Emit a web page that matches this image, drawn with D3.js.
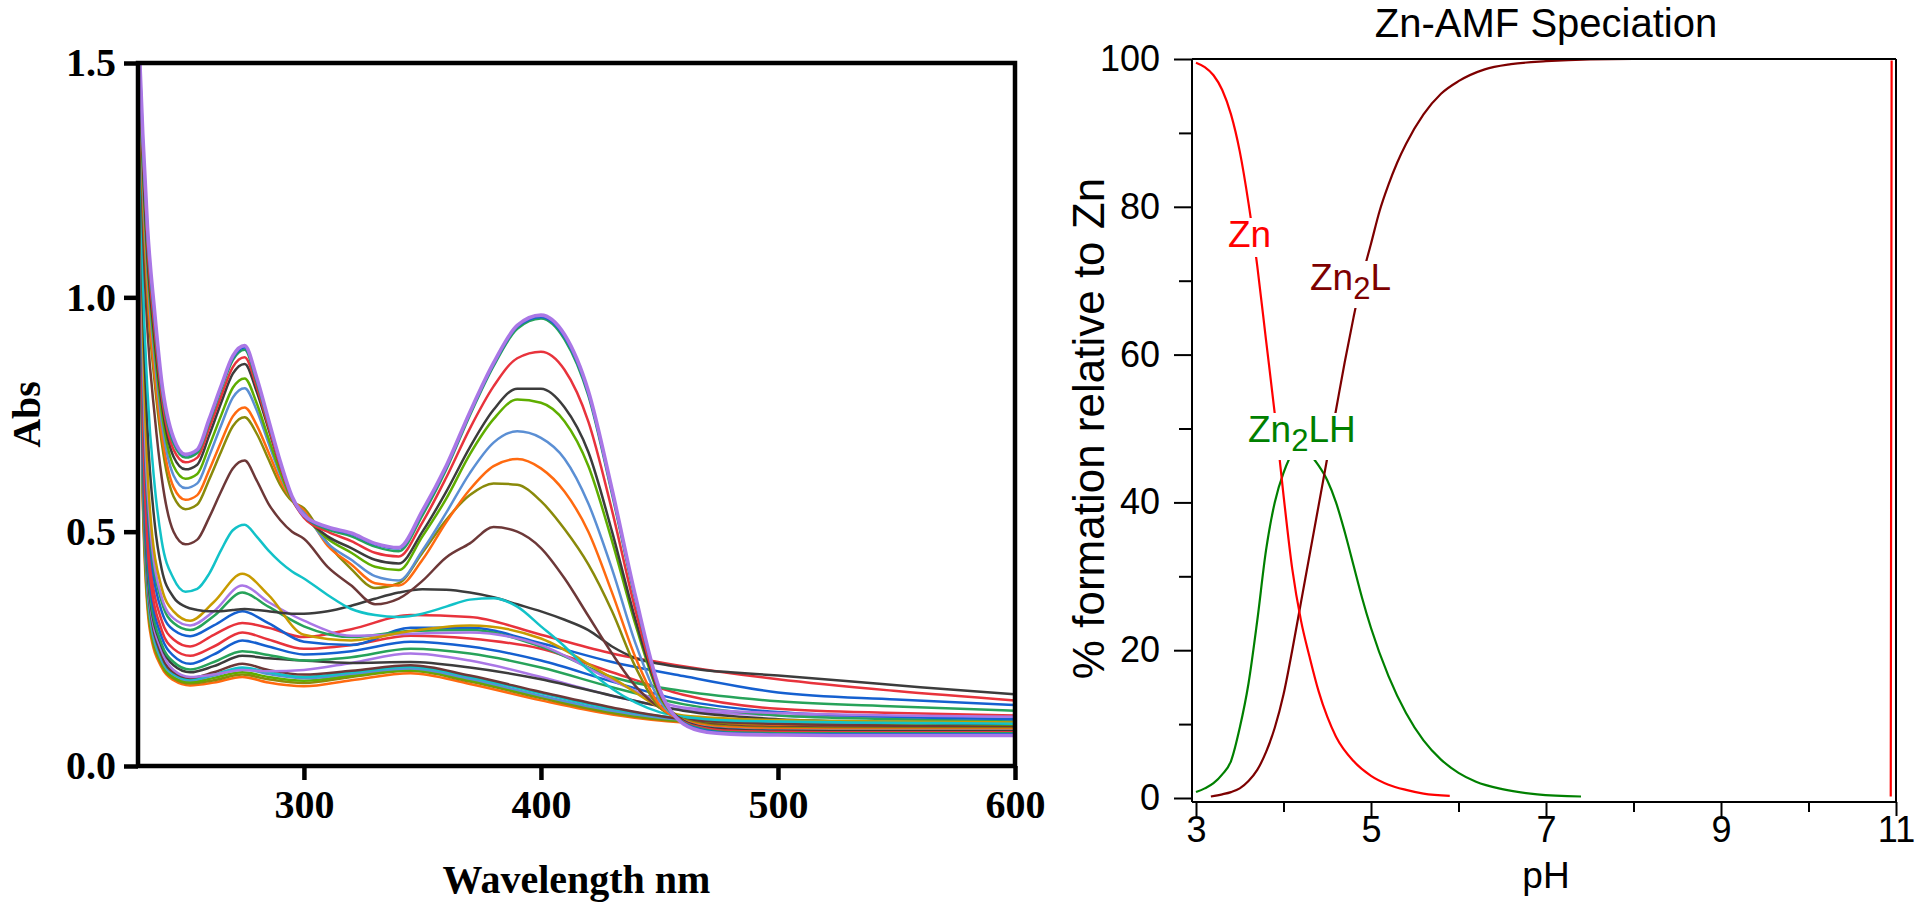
<!DOCTYPE html>
<html><head><meta charset="utf-8">
<script src="https://cdn.jsdelivr.net/npm/d3@7"></script>
<style>body{margin:0;background:#fff;}svg{display:block}</style>
</head><body>
<svg id="c" width="1920" height="918"></svg>
<script>
// ---------- LEFT PANEL DATA (UV-vis spectra) ----------
const HW = [230,232,234,237,240,245,250,255,260,265,270,275,280,285,290,295,300,310,320,330,340,350,360,370,380,390,400,410,420,430,440,450,460,470,480,500,530,560,600];
const LW = [230,232,235,240,245,252,262,274,285,300,320,345,370,400,430,460,500,550,600];
const xTicksL = [300,400,500,600];
const yTicksL = [0,0.5,1.0,1.5];

const sPurple = [1.6,1.35,1.15,0.97,0.82,0.70,0.665,0.675,0.74,0.81,0.875,0.897,0.83,0.74,0.65,0.575,0.535,0.51,0.497,0.475,0.466,0.545,0.64,0.755,0.86,0.94,0.962,0.92,0.80,0.59,0.36,0.165,0.09,0.072,0.068,0.066,0.065,0.065,0.065];
const sBlue = [1.6,1.34,1.14,0.96,0.815,0.695,0.663,0.673,0.737,0.807,0.871,0.893,0.826,0.737,0.648,0.573,0.533,0.508,0.495,0.473,0.464,0.542,0.637,0.752,0.857,0.937,0.958,0.915,0.795,0.585,0.355,0.163,0.092,0.075,0.07,0.068,0.068,0.068,0.068];
const sGreen = [1.6,1.33,1.13,0.95,0.805,0.688,0.658,0.668,0.732,0.802,0.866,0.888,0.82,0.733,0.647,0.574,0.534,0.505,0.49,0.468,0.458,0.535,0.632,0.748,0.853,0.933,0.955,0.91,0.79,0.58,0.352,0.162,0.093,0.077,0.072,0.07,0.07,0.07,0.07];
const sRed = [1.6,1.32,1.11,0.93,0.79,0.675,0.648,0.658,0.72,0.788,0.851,0.872,0.81,0.725,0.64,0.57,0.53,0.50,0.48,0.455,0.447,0.52,0.615,0.72,0.81,0.87,0.884,0.845,0.735,0.545,0.33,0.158,0.095,0.08,0.075,0.073,0.072,0.072,0.072];
const sDkGray = [1.6,1.30,1.09,0.91,0.775,0.66,0.633,0.643,0.705,0.774,0.837,0.858,0.80,0.72,0.64,0.573,0.535,0.49,0.465,0.44,0.432,0.50,0.585,0.68,0.76,0.805,0.805,0.765,0.67,0.50,0.31,0.155,0.097,0.082,0.078,0.075,0.074,0.074,0.074];
const sLime = [1.6,1.28,1.07,0.89,0.755,0.64,0.613,0.623,0.682,0.747,0.807,0.827,0.775,0.70,0.627,0.567,0.535,0.485,0.455,0.425,0.418,0.49,0.57,0.665,0.74,0.782,0.775,0.735,0.64,0.48,0.30,0.15,0.096,0.08,0.076,0.073,0.072,0.072,0.072];
const sStBlue = [1.6,1.26,1.05,0.87,0.735,0.62,0.593,0.603,0.661,0.726,0.786,0.806,0.76,0.69,0.622,0.568,0.54,0.475,0.44,0.405,0.396,0.46,0.54,0.625,0.69,0.714,0.70,0.655,0.56,0.42,0.26,0.14,0.097,0.083,0.079,0.076,0.075,0.075,0.075];
const sOrange = [1.6,1.24,1.02,0.84,0.71,0.595,0.568,0.578,0.631,0.691,0.746,0.765,0.728,0.67,0.61,0.568,0.545,0.47,0.43,0.39,0.385,0.44,0.52,0.59,0.64,0.655,0.635,0.585,0.50,0.37,0.23,0.13,0.098,0.086,0.082,0.079,0.078,0.078,0.078];
const sOlive = [1.6,1.22,1.0,0.82,0.69,0.575,0.548,0.558,0.611,0.67,0.725,0.744,0.71,0.655,0.60,0.565,0.55,0.475,0.42,0.38,0.39,0.455,0.525,0.578,0.603,0.60,0.565,0.505,0.43,0.33,0.21,0.125,0.1,0.088,0.084,0.081,0.08,0.08,0.08];
const sBrown = [1.6,1.16,0.93,0.75,0.615,0.50,0.473,0.483,0.53,0.585,0.635,0.652,0.61,0.56,0.525,0.50,0.485,0.425,0.385,0.345,0.357,0.395,0.445,0.475,0.51,0.50,0.465,0.40,0.32,0.24,0.17,0.125,0.1,0.09,0.086,0.083,0.082,0.082,0.082];
const sCyan = [1.6,1.05,0.8,0.6,0.48,0.40,0.372,0.378,0.41,0.46,0.503,0.515,0.49,0.46,0.435,0.415,0.40,0.365,0.335,0.322,0.318,0.325,0.34,0.355,0.358,0.34,0.298,0.255,0.205,0.165,0.135,0.115,0.105,0.1,0.097,0.095,0.093,0.092,0.09];
const sDkGray2 = [1.6,1.0,0.72,0.52,0.42,0.36,0.34,0.333,0.33,0.33,0.333,0.335,0.333,0.33,0.327,0.325,0.325,0.33,0.342,0.357,0.37,0.377,0.376,0.37,0.36,0.345,0.33,0.312,0.29,0.255,0.23,0.218,0.21,0.204,0.2,0.193,0.181,0.168,0.153];

const sGold = [1.6,0.95,0.55,0.38,0.33,0.31,0.35,0.41,0.365,0.28,0.268,0.288,0.30,0.272,0.188,0.108,0.098,0.095,0.093];
const sPurple2 = [1.6,0.9,0.52,0.36,0.315,0.30,0.33,0.385,0.35,0.31,0.278,0.282,0.285,0.258,0.183,0.125,0.113,0.108,0.105];
const sGreen2 = [1.6,0.88,0.5,0.35,0.305,0.29,0.32,0.37,0.34,0.298,0.275,0.288,0.29,0.255,0.19,0.16,0.138,0.127,0.118];
const sBlue2 = [1.6,0.85,0.48,0.33,0.29,0.277,0.30,0.33,0.305,0.265,0.258,0.295,0.295,0.262,0.222,0.192,0.157,0.142,0.13];
const sRed2 = [1.6,0.8,0.44,0.31,0.27,0.255,0.28,0.305,0.295,0.275,0.292,0.322,0.318,0.28,0.24,0.213,0.185,0.16,0.14];
const sRed3 = [1.6,0.75,0.41,0.29,0.25,0.235,0.255,0.285,0.27,0.25,0.258,0.278,0.272,0.25,0.2,0.152,0.122,0.113,0.108];
const sBlue3 = [1.6,0.72,0.39,0.275,0.235,0.218,0.238,0.268,0.255,0.238,0.245,0.265,0.255,0.225,0.18,0.14,0.115,0.105,0.1];
const sGreen3 = [1.6,0.7,0.37,0.26,0.222,0.206,0.222,0.245,0.237,0.225,0.232,0.25,0.24,0.21,0.168,0.132,0.108,0.1,0.095];
const sDkGray3 = [1.6,0.68,0.36,0.255,0.215,0.2,0.213,0.235,0.23,0.225,0.22,0.222,0.21,0.185,0.15,0.118,0.1,0.093,0.09];
const sPurple3 = [1.6,0.66,0.35,0.245,0.205,0.19,0.195,0.205,0.202,0.205,0.22,0.24,0.225,0.19,0.15,0.12,0.108,0.103,0.1];
const sBrown2 = [1.6,0.64,0.34,0.235,0.2,0.188,0.2,0.218,0.205,0.195,0.203,0.215,0.193,0.158,0.125,0.1,0.09,0.086,0.083];
const sCyan2 = [1.6,0.63,0.33,0.23,0.197,0.185,0.195,0.21,0.2,0.19,0.2,0.212,0.19,0.155,0.122,0.102,0.097,0.095,0.094];
const sStBlue2 = [1.6,0.62,0.32,0.225,0.195,0.183,0.193,0.207,0.196,0.187,0.197,0.208,0.186,0.15,0.118,0.099,0.094,0.092,0.09];
const sLime2 = [1.6,0.6,0.31,0.22,0.19,0.179,0.188,0.2,0.19,0.182,0.193,0.205,0.183,0.148,0.116,0.097,0.092,0.09,0.088];
const sOlive2 = [1.6,0.58,0.3,0.215,0.187,0.176,0.183,0.195,0.185,0.177,0.19,0.203,0.18,0.145,0.113,0.095,0.09,0.088,0.086];
const sOrange2 = [1.6,0.56,0.29,0.21,0.183,0.172,0.178,0.19,0.178,0.17,0.183,0.198,0.175,0.14,0.11,0.093,0.087,0.085,0.083];

// ---------- RIGHT PANEL DATA (speciation) ----------
const pHZn = [3.0,3.1,3.2,3.3,3.4,3.5,3.6,3.7,3.8,3.9,4.0,4.1,4.2,4.3,4.4,4.5,4.6,4.8,5.0,5.2,5.4,5.6,5.9];
const pctZn = [99.5,98.9,97.8,95.8,92.5,87.5,80.5,72,62,52,41,31,24,19,14.5,11,8.3,5,3,1.8,1.1,0.6,0.3];
const pHZnHigh = [10.94,10.945,10.95];
const pctZnHigh = [0.2,50,99.8];
const pHZn2LH = [3.0,3.1,3.2,3.3,3.4,3.5,3.6,3.7,3.8,3.9,4.0,4.1,4.2,4.3,4.4,4.5,4.6,4.7,4.8,4.9,5.0,5.2,5.4,5.6,5.8,6.0,6.2,6.5,6.9,7.4];
const pctZn2LH = [0.8,1.3,2.0,3.2,5.0,9.5,15.5,24,33.5,40,44,46.5,47,46.5,45,43,40,36,31.5,27,23,16.5,11.5,7.8,5.2,3.4,2.2,1.2,0.5,0.2];
const pHZn2L = [3.17,3.3,3.4,3.5,3.6,3.7,3.8,3.9,4.0,4.1,4.2,4.3,4.4,4.5,4.6,4.7,4.8,4.9,5.0,5.1,5.2,5.3,5.4,5.6,5.8,6.0,6.3,6.6,7.0,7.5,8.0];
const pctZn2L = [0.2,0.5,0.8,1.3,2.3,3.8,6.2,9.5,14,20,26.5,33,39.5,46,52.5,59,65,70.5,75,79.5,83,86,88.5,92.5,95.3,97,98.6,99.3,99.7,99.95,100];
const xTicksR = [3,5,7,9,11], xMinorR = [4,6,8,10];
const yTicksR = [0,20,40,60,80,100], yMinorR = [10,30,50,70,90];

// ---------- series styling ----------
const leftSeries = [
  {w:LW,v:sOrange2,c:'#ff6a10'},{w:LW,v:sOlive2,c:'#8a8a0a'},{w:LW,v:sLime2,c:'#5fae00'},
  {w:LW,v:sStBlue2,c:'#5b8fd4'},{w:LW,v:sCyan2,c:'#12c2c8'},{w:LW,v:sBrown2,c:'#6d3838'},
  {w:LW,v:sPurple3,c:'#aa77e6'},{w:LW,v:sDkGray3,c:'#3c3c3c'},{w:LW,v:sGreen3,c:'#27a35a'},
  {w:LW,v:sBlue3,c:'#1560d0'},{w:LW,v:sRed3,c:'#e8333c'},
  {w:LW,v:sRed2,c:'#e8333c'},{w:LW,v:sBlue2,c:'#1560d0'},{w:LW,v:sGreen2,c:'#27a35a'},
  {w:LW,v:sPurple2,c:'#aa77e6'},{w:LW,v:sGold,c:'#c89b00'},
  {w:HW,v:sDkGray2,c:'#3c3c3c'},{w:HW,v:sCyan,c:'#12c2c8'},
  {w:HW,v:sBrown,c:'#6d3838'},{w:HW,v:sOlive,c:'#8a8a0a'},{w:HW,v:sOrange,c:'#ff6a10'},
  {w:HW,v:sStBlue,c:'#5b8fd4'},{w:HW,v:sLime,c:'#5fae00'},{w:HW,v:sDkGray,c:'#3c3c3c'},
  {w:HW,v:sRed,c:'#e8333c'},{w:HW,v:sGreen,c:'#27a35a'},{w:HW,v:sBlue,c:'#1560d0'},
  {w:HW,v:sPurple,c:'#aa77e6',sw:3.6}
];

const svg = d3.select('#c');
const serif = "'Liberation Serif','Times New Roman',serif";
const sans = "'Liberation Sans',Arial,Helvetica,sans-serif";

// ---------- LEFT PANEL ----------
const L = {x0:138, x1:1015, y0:766, y1:63};
const xL = d3.scaleLinear().domain([230,600]).range([L.x0,L.x1]);
const yL = d3.scaleLinear().domain([0,1.5]).range([L.y0,L.y1]);
svg.append('clipPath').attr('id','clipL').append('rect')
  .attr('x',L.x0).attr('y',L.y1).attr('width',L.x1-L.x0).attr('height',L.y0-L.y1);
const lineL = d3.line().x(d=>xL(d[0])).y(d=>yL(d[1])).curve(d3.curveMonotoneX);
const gCurves = svg.append('g').attr('clip-path','url(#clipL)');
leftSeries.forEach(s=>{
  gCurves.append('path').attr('d',lineL(s.w.map((w,i)=>[w,s.v[i]])))
    .attr('fill','none').attr('stroke',s.c).attr('stroke-width',s.sw||2.5)
    .attr('stroke-linejoin','round');
});
svg.append('rect').attr('x',L.x0).attr('y',L.y1).attr('width',L.x1-L.x0).attr('height',L.y0-L.y1)
  .attr('fill','none').attr('stroke','#000').attr('stroke-width',4.5);

const axYL = svg.append('g').attr('transform',`translate(${L.x0},0)`)
  .call(d3.axisLeft(yL).tickValues(yTicksL).tickFormat(d3.format('.1f')).tickSize(14).tickPadding(8));
const axXL = svg.append('g').attr('transform',`translate(0,${L.y0})`)
  .call(d3.axisBottom(xL).tickValues(xTicksL).tickFormat(d3.format('d')).tickSize(14).tickPadding(10));
[axYL,axXL].forEach(a=>{
  a.select('.domain').remove();
  a.selectAll('line').attr('stroke','#000').attr('stroke-width',4.5);
  a.selectAll('text').attr('fill','#000').style('font-family',serif).style('font-weight','bold').style('font-size','40px');
});
svg.append('text').attr('transform',`translate(40,${(L.y0+L.y1)/2}) rotate(-90)`)
  .attr('text-anchor','middle').style('font-family',serif).style('font-weight','bold').style('font-size','40px')
  .text('Abs');
svg.append('text').attr('x',(L.x0+L.x1)/2).attr('y',893).attr('text-anchor','middle')
  .style('font-family',serif).style('font-weight','bold').style('font-size','40px').text('Wavelength nm');

// ---------- RIGHT PANEL ----------
const R = {x0:1196, x1:1896, y0:798, y1:59};
const xR = d3.scaleLinear().domain([3,11]).range([R.x0,R.x1]);
const yR = d3.scaleLinear().domain([0,100]).range([R.y0,R.y1]);
const axX = R.x0-4, axY = R.y0+4;
const lineR = d3.line().x(d=>xR(d[0])).y(d=>yR(d[1])).curve(d3.curveMonotoneX);
const gR = svg.append('g');
const rs = [
  {x:pHZn2LH,y:pctZn2LH,c:'#008000'},
  {x:pHZn2L,y:pctZn2L,c:'#7d0000'},
  {x:pHZn,y:pctZn,c:'#ff0000'},
  {x:pHZnHigh,y:pctZnHigh,c:'#ff0000'}
];
rs.forEach(s=>{
  gR.append('path').attr('d',lineR(s.x.map((p,i)=>[p,s.y[i]])))
    .attr('fill','none').attr('stroke',s.c).attr('stroke-width',2.2);
});
gR.append('line').attr('x1',axX).attr('x2',R.x1).attr('y1',R.y1).attr('y2',R.y1).attr('stroke','#000').attr('stroke-width',2);
gR.append('line').attr('x1',R.x1).attr('x2',R.x1).attr('y1',R.y1).attr('y2',axY).attr('stroke','#000').attr('stroke-width',2);

function styleR(a){
  a.select('.domain').attr('stroke','#000').attr('stroke-width',2);
  a.selectAll('line').attr('stroke','#000').attr('stroke-width',2);
  a.selectAll('text').attr('fill','#000').style('font-family',sans).style('font-size','36px');
}
const ayR = svg.append('g').attr('transform',`translate(${axX},0)`)
  .call(d3.axisLeft(yR).tickValues(yTicksR).tickFormat(d3.format('d')).tickSize(18).tickSizeOuter(0).tickPadding(14));
styleR(ayR);
ayR.select('.domain').attr('d',`M0,${R.y1}V${axY}`);
const ayRm = svg.append('g').attr('transform',`translate(${axX},0)`)
  .call(d3.axisLeft(yR).tickValues(yMinorR).tickFormat('').tickSize(13).tickSizeOuter(0));
styleR(ayRm); ayRm.select('.domain').remove();
const axR = svg.append('g').attr('transform',`translate(0,${axY})`)
  .call(d3.axisBottom(xR).tickValues(xTicksR).tickFormat(d3.format('d')).tickSize(14).tickSizeOuter(0).tickPadding(0));
styleR(axR);
axR.select('.domain').attr('d',`M${axX},0H${R.x1}`);
const axRm = svg.append('g').attr('transform',`translate(0,${axY})`)
  .call(d3.axisBottom(xR).tickValues(xMinorR).tickFormat('').tickSize(10).tickSizeOuter(0));
styleR(axRm); axRm.select('.domain').remove();

svg.append('text').attr('transform',`translate(1104,${(R.y0+R.y1)/2}) rotate(-90)`)
  .attr('text-anchor','middle').style('font-family',sans).style('font-size','44px')
  .text('% formation relative to Zn');
svg.append('text').attr('x',(R.x0+R.x1)/2).attr('y',888).attr('text-anchor','middle')
  .style('font-family',sans).style('font-size','37px').text('pH');
svg.append('text').attr('x',(R.x0+R.x1)/2).attr('y',37).attr('text-anchor','middle')
  .style('font-family',sans).style('font-size','40px').text('Zn-AMF Speciation');

function speciesLabel(x, y, parts, color){
  const g = svg.append('g');
  const bg = g.append('rect').attr('fill','#fff');
  const t = g.append('text').attr('x',x).attr('y',y).attr('fill',color)
    .style('font-family',sans).style('font-size','37px');
  parts.forEach(p=>{
    const ts = t.append('tspan').text(p.t);
    if(p.sub){ ts.attr('dy',9).style('font-size','31px'); }
    else if(p.after){ ts.attr('dy',-9); }
  });
  const b = t.node().getBBox();
  bg.attr('x',b.x-3).attr('y',b.y+4).attr('width',b.width+6).attr('height',b.height-2);
}
speciesLabel(1228,247,[{t:'Zn'}],'#ff0000');
speciesLabel(1310,290,[{t:'Zn'},{t:'2',sub:true},{t:'L',after:true}],'#7d0000');
speciesLabel(1248,442,[{t:'Zn'},{t:'2',sub:true},{t:'LH',after:true}],'#008000');
</script>
</body></html>
